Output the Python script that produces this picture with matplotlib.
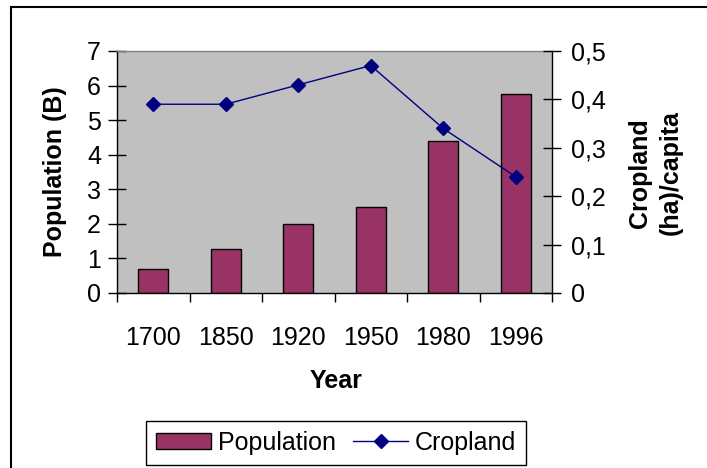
import matplotlib
matplotlib.use("Agg")
import matplotlib.pyplot as plt
from matplotlib.lines import Line2D
from matplotlib.ticker import FixedLocator, NullFormatter

plt.rcParams['font.family'] = ['Liberation Sans', 'DejaVu Sans']

years = ['1700', '1850', '1920', '1950', '1980', '1996']
population = [0.7, 1.27, 2.0, 2.5, 4.4, 5.77]
cropland = [0.39, 0.39, 0.43, 0.47, 0.34, 0.24]
left_ticks = [0, 1, 2, 3, 4, 5, 6, 7]
right_ticks = [0, 0.1, 0.2, 0.3, 0.4, 0.5]
right_labels = ['0', '0,1', '0,2', '0,3', '0,4', '0,5']

W, H = 707, 468
FS = 18
fig = plt.figure(figsize=(W / 100, H / 100), dpi=100)
ax1 = fig.add_axes([117 / W, 1 - 293 / H, 435 / W, 242 / H])
ax1.set_facecolor('#C0C0C0')

x = list(range(len(years)))
bars = ax1.bar(x, population, width=0.42, color='#993366', edgecolor='black',
               linewidth=1.0, label='Population', zorder=2)
ax1.set_xlim(-0.5, len(years) - 0.5)
ax1.set_ylim(0, 7)
ax1.set_yticks(left_ticks)
ax1.set_xticks(x)
ax1.set_xticklabels(years)
ax1.xaxis.set_minor_locator(FixedLocator([i - 0.5 for i in range(len(years) + 1)]))
ax1.xaxis.set_minor_formatter(NullFormatter())
ax1.tick_params(axis='x', which='major', length=0, pad=24, labelsize=FS)
ax1.tick_params(axis='x', which='minor', direction='out', length=6.5, width=1.0, color='black')
ax1.tick_params(axis='y', direction='inout', length=13, width=1.0, pad=5, labelsize=FS)

for s in ['left', 'bottom']:
    ax1.spines[s].set_color('black')
    ax1.spines[s].set_linewidth(1.0)
ax1.spines['top'].set_color('#808080')
ax1.spines['top'].set_linewidth(1.0)
ax1.spines['right'].set_visible(False)

ax2 = ax1.twinx()
ax2.patch.set_visible(False)
line, = ax2.plot(x, cropland, color='#000080', marker='D', markersize=7.5,
                 linewidth=1.0, label='Cropland', zorder=3)
ax2.set_ylim(0, 0.5)
ax2.set_yticks(right_ticks)
ax2.set_yticklabels(right_labels)
ax2.tick_params(axis='y', direction='inout', length=13, width=1.0, pad=7, labelsize=FS)
ax2.spines['right'].set_color('black')
ax2.spines['right'].set_linewidth(1.0)
ax2.spines['top'].set_visible(False)
ax2.spines['left'].set_visible(False)
ax2.spines['bottom'].set_visible(False)

fig.text(55 / W, 1 - 172 / H, 'Population (B)', rotation=90, ha='center', va='center',
         fontsize=FS, fontweight='bold')
fig.text(655 / W, 1 - 173 / H, 'Cropland\n(ha)/capita', rotation=90, ha='center',
         va='center', fontsize=FS, fontweight='bold', multialignment='center',
         linespacing=1.35)
fig.text(336 / W, 1 - 381 / H, 'Year', ha='center', va='center',
         fontsize=FS, fontweight='bold')

leg = fig.legend([bars, line], ['Population', 'Cropland'], loc='center',
                 bbox_to_anchor=(336 / W, 1 - 443 / H), ncol=2, fontsize=FS,
                 frameon=True, fancybox=False, framealpha=1, edgecolor='black',
                 handlelength=2.2, handleheight=0.64, handletextpad=0.25,
                 columnspacing=0.7, borderpad=0.4, borderaxespad=0)
leg.get_frame().set_linewidth(1.0)

fig.add_artist(Line2D([11 / W, 1], [1 - 7 / H, 1 - 7 / H], color='black', linewidth=1.5,
                      transform=fig.transFigure))
fig.add_artist(Line2D([11 / W, 11 / W], [1 - 7 / H, 0], color='black', linewidth=1.5,
                      transform=fig.transFigure))

fig.savefig('out.png', dpi=100)
